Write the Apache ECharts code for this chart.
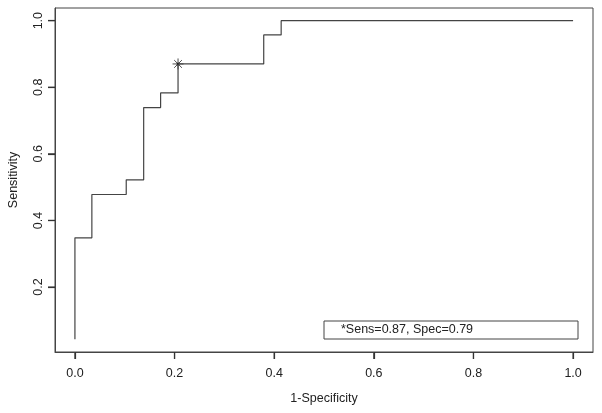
<!DOCTYPE html>
<html>
<head>
<meta charset="utf-8" />
<title>ROC</title>
<style type="text/css">
  body, html, #main {width: 100%; height: 100%; margin: 0; overflow: hidden; background: #fff;}
</style>
<script src="https://cdn.jsdelivr.net/npm/echarts@6/dist/echarts.min.js"></script>
</head>
<body>
<div id="main"></div>
<script type="text/javascript">
// ROC points (1-specificity, sensitivity)
var fpr = [0, 0, 0.034, 0.103, 0.138, 0.172, 0.207, 0.379, 0.414, 1.0];
var tpr = [0.043, 0.348, 0.478, 0.522, 0.739, 0.783, 0.870, 0.957, 1.0, 1.0];
// chosen cut-off
var cutX = [0.207];
var cutY = [0.870];
var xTicks = [0, 0.2, 0.4, 0.6, 0.8, 1.0];
var yTicks = [0.2, 0.4, 0.6, 0.8, 1.0];
var legendText = '*Sens=0.87, Spec=0.79';

var ink = '#444';
var font = 'Liberation Sans, Arial, Helvetica, sans-serif';
var xMin = -0.04, xMax = 1.04, yMin = 0.005, yMax = 1.038;

var chart = echarts.init(document.getElementById('main'));

var roc = [];
for (var i = 0; i < fpr.length; i++) roc.push([fpr[i], tpr[i]]);
var cut = [];
for (var j = 0; j < cutX.length; j++) cut.push([cutX[j], cutY[j]]);

function fmt(v) { return v.toFixed(1); }

var option = {
  animation: false,
  grid: {
    left: 55, right: 9, top: 8, bottom: 61,
    outerBoundsMode: 'none', containLabel: false,
    show: true, borderColor: ink, borderWidth: 1
  },
  xAxis: {
    type: 'value',
    min: xMin, max: xMax,
    name: '1-Specificity', nameLocation: 'middle', nameGap: 40,
    nameTextStyle: {fontFamily: font, fontSize: 12.5, color: '#222'},
    axisLine: {show: true, onZero: false, lineStyle: {color: ink}},
    splitLine: {show: false},
    axisTick: {show: true, customValues: xTicks, length: 7,
      lineStyle: {color: '#333', width: 1.2}},
    axisLabel: {customValues: xTicks, formatter: fmt, margin: 15,
      fontFamily: font, fontSize: 12.5, color: '#222'}
  },
  yAxis: {
    type: 'value',
    min: yMin, max: yMax,
    name: 'Sensitivity', nameLocation: 'middle', nameGap: 35,
    nameTextStyle: {fontFamily: font, fontSize: 12.5, color: '#222'},
    axisLine: {show: true, onZero: false, lineStyle: {color: ink}},
    splitLine: {show: false},
    axisTick: {show: true, customValues: yTicks, length: 7,
      lineStyle: {color: '#333', width: 1.2}},
    axisLabel: {customValues: yTicks, formatter: fmt, rotate: 90, margin: 10,
      fontFamily: font, fontSize: 12.5, color: '#222'}
  },
  series: [
    {
      type: 'line',
      data: roc,
      step: 'end',
      showSymbol: false,
      lineStyle: {color: ink, width: 1.2}
    },
    {
      type: 'scatter',
      data: cut,
      symbol: 'path://M5,0L5,10M0,5L10,5M1.5,1.5L8.5,8.5M1.5,8.5L8.5,1.5',
      symbolSize: 11,
      itemStyle: {color: 'none', borderColor: '#222', borderWidth: 1}
    },
    {
      type: 'scatter',
      data: cut,
      symbol: 'circle',
      symbolSize: 3,
      itemStyle: {color: '#111'}
    }
  ],
  graphic: [
    {
      type: 'rect',
      shape: {x: 324, y: 321, width: 254, height: 18},
      style: {fill: '#fff', stroke: ink, lineWidth: 1}
    },
    {
      type: 'text',
      x: 341, y: 330,
      style: {text: legendText, font: '12.5px ' + font, fill: '#222',
        textVerticalAlign: 'middle', verticalAlign: 'middle'}
    }
  ]
};
chart.setOption(option);

// tick marks again as plain lines, placed through the axes' own scales
var tickLines = [];
xTicks.forEach(function (v) {
  var p = chart.convertToPixel({gridIndex: 0}, [v, yMin]);
  tickLines.push({type: 'line', shape: {x1: p[0], y1: p[1], x2: p[0], y2: p[1] + 7},
    style: {stroke: '#333', lineWidth: 1.2}});
});
yTicks.forEach(function (v) {
  var p = chart.convertToPixel({gridIndex: 0}, [xMin, v]);
  tickLines.push({type: 'line', shape: {x1: p[0], y1: p[1], x2: p[0] - 7, y2: p[1]},
    style: {stroke: '#333', lineWidth: 1.2}});
});
chart.setOption({graphic: option.graphic.concat(tickLines)});
</script>
</body>
</html>
